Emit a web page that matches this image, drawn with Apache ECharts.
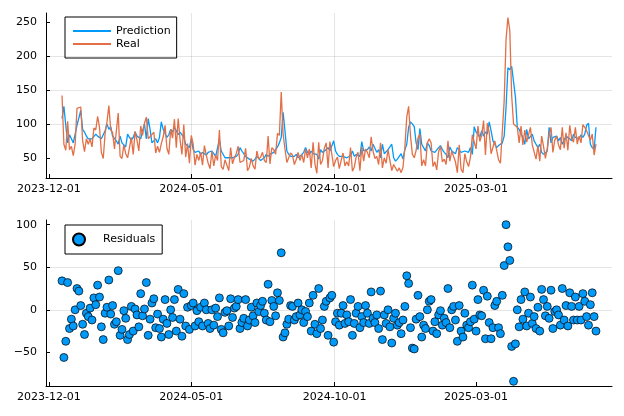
<!DOCTYPE html>
<html><head><meta charset="utf-8">
<script src="https://cdn.jsdelivr.net/npm/echarts@6/dist/echarts.min.js"></script>
<style>html,body{margin:0;padding:0;background:#fff}#c{width:624px;height:416px}</style>
</head><body><div id="c"></div>
<script>
// Observation dates: every 2 days starting 2023-12-15
const startDate = '2023-12-15';
const stepDays = 2;

const prediction = [
108,126,98,72,84,78,72,70,98,100,
120,92,88,82,78,76,78,80,85,82,
80,78,84,90,100,92,96,82,80,75,
70,82,72,70,66,85,80,76,80,88,
82,80,78,90,100,78,108,92,72,75,
78,72,80,103,92,86,80,84,92,88,
95,90,84,88,86,80,70,68,65,78,
62,58,56,60,55,58,60,54,58,56,
60,56,52,54,77,60,60,50,48,50,
52,50,48,52,55,65,60,56,52,50,
48,46,45,48,52,50,46,48,50,55,
52,55,54,58,62,66,72,80,117,90,
60,55,52,50,52,55,50,52,55,58,
65,58,55,60,56,58,55,48,62,58,
60,62,65,60,58,75,60,55,52,50,
52,54,50,52,53,60,52,55,54,52,
74,60,58,62,66,60,70,64,58,62,
50,70,56,58,62,66,70,50,45,48,
50,56,48,62,70,95,103,100,96,72,
62,93,70,65,60,72,68,60,62,58,
60,65,68,62,58,55,50,66,60,58,
56,65,64,58,60,60,62,58,65,55,
96,88,85,80,90,82,88,85,103,90,
75,70,65,68,70,72,82,125,183,180,
185,184,140,95,92,85,80,70,92,78,
80,85,75,70,65,70,58,55,56,60,
95,72,80,78,82,75,80,70,76,82,
80,78,75,85,80,82,78,84,80,85,
98,101,70,65,62,95
];

const real = [
142,70,61,104,62,67,53,70,123,122,
125,75,59,78,70,78,66,94,91,111,
95,58,49,86,103,127,91,87,63,61,
116,52,49,69,56,50,51,80,55,89,
76,60,97,83,101,110,78,81,80,88,
57,67,58,71,81,98,64,55,92,79,
107,65,108,77,55,99,51,71,42,83,
70,39,55,46,58,39,68,54,42,34,
60,38,54,46,91,37,33,47,47,31,
65,41,50,56,67,43,45,46,64,31,
36,49,38,33,60,48,51,58,46,43,
82,41,65,62,55,86,83,147,85,63,
43,44,57,54,40,47,58,46,55,43,
63,50,63,35,73,41,27,73,40,46,
64,72,35,74,75,37,46,51,34,46,
57,38,44,38,65,30,36,51,58,31,
66,45,63,58,50,81,60,49,52,40,
72,35,50,42,62,46,31,40,41,30,
35,28,36,66,110,126,82,55,50,61,
79,85,38,47,38,72,78,72,37,44,
32,59,67,44,48,40,75,45,60,62,
44,28,69,33,28,56,44,37,51,84,
85,63,97,74,83,105,54,101,88,56,
54,75,75,47,42,89,134,225,257,238,
142,100,100,95,72,97,69,91,73,74,
95,69,67,48,68,45,82,67,49,64,
85,95,58,76,82,69,62,95,64,87,
61,98,79,73,95,70,82,72,99,95,
90,83,76,85,54,70
];

const residuals = [
34,-56,-37,32,-22,-11,-19,0,25,22,
5,-17,-29,-4,-8,2,-12,14,6,29,
15,-20,-35,-4,3,35,-5,5,-17,-14,
46,-30,-23,-1,-10,-35,-29,4,-25,1,
-6,-20,19,-7,1,32,-30,-11,8,13,
-21,-5,-22,-32,-11,12,-16,-29,0,-9,
12,-25,24,-11,-31,19,-19,3,-23,5,
8,-19,-1,-14,3,-19,8,0,-16,-22,
0,-18,2,-8,14,-23,-27,-3,-1,-19,
13,-9,2,4,12,-22,-15,-10,12,-19,
-12,3,-7,-15,8,-2,5,10,-4,-12,
30,-14,11,4,-7,20,11,67,-32,-27,
-17,-11,5,4,-12,-8,8,-6,0,-15,
-2,-8,8,-25,17,-17,-28,25,-22,-12,
4,10,-30,14,17,-38,-14,-4,-18,-4,
5,-16,-6,-14,12,-30,-16,-4,4,-21,
-8,-15,5,-4,-16,21,-10,-15,-6,-22,
22,-35,-6,-16,0,-20,-39,-10,-4,-18,
-15,-28,-12,4,40,31,-21,-45,-46,-11,
17,-8,-32,-18,-22,0,10,12,-25,-14,
-28,-6,-1,-18,-10,-15,25,-21,0,4,
-12,-37,5,-25,-32,-4,-18,-21,-14,29,
-11,-25,12,-6,-7,23,-34,16,-15,-34,
-21,5,10,-21,-28,17,52,100,74,58,
-43,-84,-40,0,-20,12,-11,21,-19,-4,
15,-16,-8,-22,3,-25,24,12,-7,4,
-10,23,-22,-2,0,-6,-18,25,-12,5,
-19,20,4,-12,15,-12,4,-12,19,10,
-8,-18,6,20,-8,-25
];

const xTickLabels = ['2023-12-01','2024-05-01','2024-10-01','2025-03-01'];
const yTicksTop = [50,100,150,200,250];
const yTicksBottom = [-50,0,50,100];

const DAY = 86400000;
const t0 = Date.parse(startDate + 'T00:00:00Z');
const dates = prediction.map((_, i) => t0 + i * stepDays * DAY);
const xTicks = xTickLabels.map(s => Date.parse(s + 'T00:00:00Z'));

function padExtent(arrs) {
  let lo = Infinity, hi = -Infinity;
  arrs.forEach(a => a.forEach(v => { if (v < lo) lo = v; if (v > hi) hi = v; }));
  const r = hi - lo;
  return [lo - 0.03 * r, hi + 0.03 * r];
}
const xExt = padExtent([dates]);
const yTopExt = padExtent([prediction, real]);
const yBotExt = padExtent([residuals]);

const FONT = 'DejaVu Sans';
const gridColor = 'rgba(0,0,0,0.1)';
const fmtNum = v => String(v).replace('-', '\u2212');
const fmtDate = v => {
  let best = 0;
  xTicks.forEach((t, i) => { if (Math.abs(t - v) < Math.abs(xTicks[best] - v)) best = i; });
  return xTickLabels[best];
};

function xAxisCfg(gi) {
  return {
    type: 'value', gridIndex: gi, min: xExt[0], max: xExt[1],
    axisLine: { show: true, onZero: false, lineStyle: { color: '#000', width: 1 } },
    axisTick: { show: true, inside: true, length: 4, customValues: xTicks, lineStyle: { color: '#000', width: 1 } },
    axisLabel: { customValues: xTicks, formatter: fmtDate, color: '#000', fontSize: 11, fontFamily: FONT, margin: 6 },
    splitLine: { show: true, customValues: xTicks, showMinLine: false, showMaxLine: false, lineStyle: { color: gridColor, width: 1 } }
  };
}
function yAxisCfg(gi, ext, ticks) {
  return {
    type: 'value', gridIndex: gi, min: ext[0], max: ext[1],
    axisLine: { show: true, onZero: false, lineStyle: { color: '#000', width: 1 } },
    axisTick: { show: true, inside: true, length: 4, customValues: ticks, lineStyle: { color: '#000', width: 1 } },
    axisLabel: { customValues: ticks, formatter: fmtNum, color: '#000', fontSize: 11, fontFamily: FONT, margin: 9 },
    splitLine: { show: true, customValues: ticks, showMinLine: false, showMaxLine: false, lineStyle: { color: gridColor, width: 1 } }
  };
}

const chart = echarts.init(document.getElementById('c'), null, { renderer: 'canvas' });
chart.setOption({
  animation: false,
  backgroundColor: '#fff',
  grid: [
    { left: 46, right: 12, top: 13, height: 165 },
    { left: 46, right: 12, top: 220, height: 166 }
  ],
  xAxis: [xAxisCfg(0), xAxisCfg(1)],
  yAxis: [yAxisCfg(0, yTopExt, yTicksTop), yAxisCfg(1, yBotExt, yTicksBottom)],
  legend: [
    {
      data: ['Prediction', 'Real'], orient: 'vertical', left: 65, top: 17,
      itemWidth: 38, itemHeight: 11, itemGap: 2, padding: [8.5, 6, 8.5, 7],
      borderColor: '#000', borderWidth: 1, borderRadius: 0,
      itemStyle: { opacity: 0 },
      textStyle: { color: '#000', fontSize: 11, fontFamily: FONT }
    },
    {
      data: ['Residuals'], orient: 'vertical', left: 65, top: 225,
      itemWidth: 38, itemHeight: 12, padding: [7.5, 7, 7.5, 7],
      borderColor: '#000', borderWidth: 1, borderRadius: 0,
      textStyle: { color: '#000', fontSize: 11, fontFamily: FONT }
    }
  ],
  series: [
    {
      name: 'Prediction', type: 'line', xAxisIndex: 0, yAxisIndex: 0,
      data: dates.map((d, i) => [d, prediction[i]]),
      symbol: 'none', color: '#009AFA', lineStyle: { color: '#009AFA', width: 1.3 }
    },
    {
      name: 'Real', type: 'line', xAxisIndex: 0, yAxisIndex: 0,
      data: dates.map((d, i) => [d, real[i]]),
      symbol: 'none', color: '#E36F47', lineStyle: { color: '#E36F47', width: 1.3 }
    },
    {
      name: 'Residuals', type: 'scatter', xAxisIndex: 1, yAxisIndex: 1,
      data: dates.map((d, i) => [d, residuals[i]]),
      symbol: 'circle', symbolSize: 8,
      itemStyle: { color: '#009AFA', borderColor: '#000', borderWidth: 0.7, opacity: 1 }
    }
  ]
});
</script>
</body></html>
